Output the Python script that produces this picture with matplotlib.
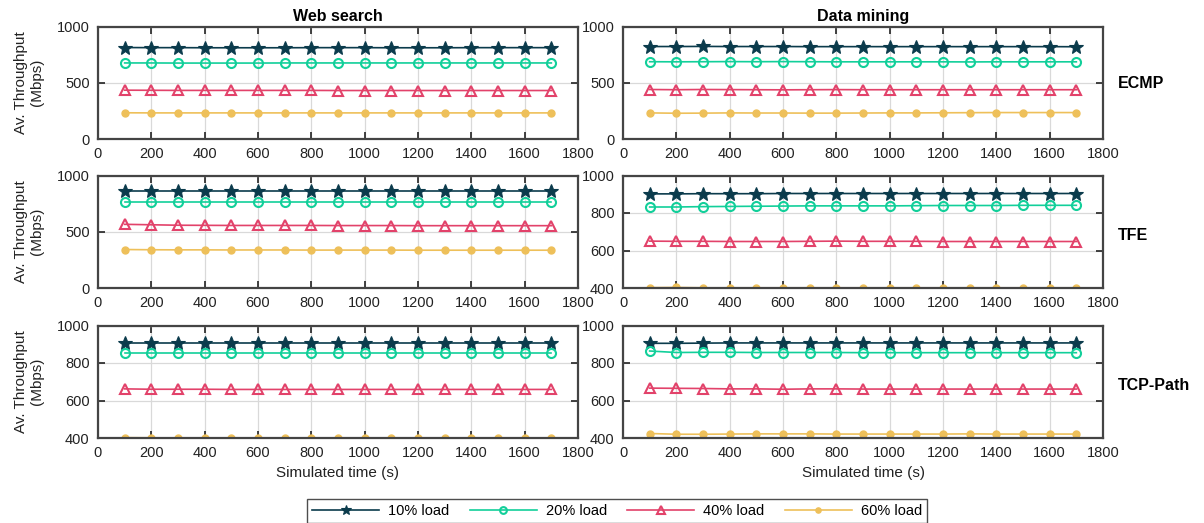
import matplotlib
matplotlib.use("Agg")
import matplotlib.pyplot as plt

plt.rcParams['font.family'] = ['Liberation Sans', 'DejaVu Sans']

times = [100, 200, 300, 400, 500, 600, 700, 800, 900, 1000, 1100, 1200, 1300, 1400, 1500, 1600, 1700]
loads = ["10% load", "20% load", "40% load", "60% load"]
columns = ["Web search", "Data mining"]
rows = ["ECMP", "TFE", "TCP-Path"]

# ECMP
ecmp_ws_10 = [813, 812, 812, 811, 811, 811, 811, 812, 812, 812, 811, 811, 811, 812, 812, 812, 812]
ecmp_ws_20 = [676, 676, 675, 675, 675, 675, 676, 676, 676, 676, 676, 676, 676, 676, 676, 676, 676]
ecmp_ws_40 = [434, 433, 432, 432, 432, 432, 432, 432, 431, 431, 431, 431, 431, 431, 431, 431, 431]
ecmp_ws_60 = [233, 232, 232, 232, 232, 232, 232, 232, 232, 232, 232, 232, 232, 232, 232, 232, 232]
ecmp_dm_10 = [822, 822, 823, 822, 822, 822, 821, 821, 821, 821, 821, 821, 821, 821, 821, 821, 820]
ecmp_dm_20 = [687, 686, 687, 688, 687, 688, 687, 686, 686, 686, 686, 686, 685, 686, 686, 686, 686]
ecmp_dm_40 = [440, 438, 440, 439, 438, 437, 438, 439, 438, 438, 438, 438, 438, 438, 438, 438, 438]
ecmp_dm_60 = [232, 229, 230, 232, 231, 231, 230, 230, 231, 232, 232, 233, 234, 235, 235, 235, 235]

# TFE
tfe_ws_10 = [858, 858, 858, 858, 858, 858, 858, 858, 858, 858, 858, 858, 858, 858, 858, 858, 858]
tfe_ws_20 = [768, 768, 768, 768, 768, 768, 768, 768, 768, 768, 768, 768, 768, 768, 768, 768, 768]
tfe_ws_40 = [566, 562, 558, 557, 556, 556, 556, 556, 555, 555, 555, 554, 554, 554, 554, 554, 554]
tfe_ws_60 = [342, 340, 339, 339, 338, 338, 338, 337, 337, 337, 337, 336, 336, 336, 336, 336, 336]
tfe_dm_10 = [902, 902, 903, 903, 903, 904, 904, 904, 904, 904, 904, 904, 904, 904, 904, 904, 904]
tfe_dm_20 = [832, 832, 834, 835, 836, 837, 838, 838, 838, 838, 839, 840, 840, 840, 841, 841, 841]
tfe_dm_40 = [650, 649, 649, 648, 648, 648, 649, 650, 649, 649, 649, 648, 648, 648, 648, 648, 648]
tfe_dm_60 = [402, 403, 401, 401, 401, 401, 401, 401, 401, 401, 401, 401, 401, 401, 401, 401, 401]

# TCP-Path
tcp_ws_10 = [909, 909, 909, 909, 909, 909, 909, 909, 909, 909, 909, 909, 909, 909, 909, 909, 909]
tcp_ws_20 = [852, 852, 852, 852, 852, 852, 852, 852, 852, 852, 852, 852, 852, 852, 852, 852, 852]
tcp_ws_40 = [662, 660, 660, 660, 659, 659, 659, 659, 659, 659, 659, 659, 659, 659, 659, 659, 659]
tcp_ws_60 = [402, 401, 400, 400, 400, 400, 400, 400, 400, 400, 400, 400, 400, 400, 400, 400, 400]
tcp_dm_10 = [905, 905, 906, 907, 907, 907, 907, 907, 907, 907, 907, 907, 907, 907, 907, 907, 907]
tcp_dm_20 = [864, 856, 857, 857, 856, 856, 856, 856, 855, 855, 855, 855, 855, 855, 855, 855, 855]
tcp_dm_40 = [666, 665, 664, 662, 662, 660, 662, 662, 661, 661, 661, 661, 661, 661, 661, 661, 661]
tcp_dm_60 = [424, 420, 420, 421, 422, 422, 422, 421, 421, 421, 421, 421, 422, 421, 421, 421, 421]

data = [
    [[ecmp_ws_10, ecmp_ws_20, ecmp_ws_40, ecmp_ws_60], [ecmp_dm_10, ecmp_dm_20, ecmp_dm_40, ecmp_dm_60]],
    [[tfe_ws_10, tfe_ws_20, tfe_ws_40, tfe_ws_60], [tfe_dm_10, tfe_dm_20, tfe_dm_40, tfe_dm_60]],
    [[tcp_ws_10, tcp_ws_20, tcp_ws_40, tcp_ws_60], [tcp_dm_10, tcp_dm_20, tcp_dm_40, tcp_dm_60]],
]
ylims = [[(0, 1000), (0, 1000)], [(0, 1000), (400, 1000)], [(400, 1000), (400, 1000)]]

colors = ['#0B3B4C', '#12CF9A', '#E2426A', '#EEC05A']
markers = ['*', 'o', '^', 'o']
msizes = [10, 6.5, 7.5, 5]
mews = [0.8, 1.5, 1.5, 1.0]
mfcs = ['#0B3B4C', 'none', 'none', '#EEC05A']

fig = plt.figure(figsize=(12.04, 5.23), dpi=100)
lefts = [98 / 1204, 623 / 1204]
width = 480 / 1204
bottoms = [1 - 139 / 523, 1 - 288 / 523, 1 - 438 / 523]
height = 112.5 / 523

handles = None
for r in range(3):
    for c in range(2):
        ax = fig.add_axes([lefts[c], bottoms[r], width, height])
        hs = []
        for k in range(4):
            h, = ax.plot(times, data[r][c][k], color=colors[k], marker=markers[k],
                         ms=msizes[k], mfc=mfcs[k], mec=colors[k], mew=mews[k], lw=1.2,
                         label=loads[k])
            hs.append(h)
        handles = hs
        ax.set_xlim(0, 1800)
        ax.set_ylim(*ylims[r][c])
        ax.set_xticks(range(0, 1801, 200))
        lo, hi = ylims[r][c]
        if lo == 0:
            ax.set_yticks([0, 500, 1000])
        else:
            ax.set_yticks([400, 600, 800, 1000])
        ax.grid(True, color='#d9d9d9', lw=0.9)
        ax.set_axisbelow(True)
        ax.tick_params(direction='in', top=True, right=True, length=5, width=1.2,
                       color='#222222', labelsize=10.5, labelcolor='#222222', pad=6)
        for s in ax.spines.values():
            s.set_color('#444444')
            s.set_linewidth(1.6)
        if c == 0:
            ax.set_ylabel("Av. Throughput\n(Mbps)", fontsize=11, color='#222222', labelpad=9)
        if r == 0:
            ax.set_title(columns[c], fontsize=11.5, fontweight='bold', pad=4)
        if r == 2:
            ax.set_xlabel("Simulated time (s)", fontsize=11, color='#222222', labelpad=4)

row_y = [1 - 84 / 523, 1 - 236 / 523, 1 - 386 / 523]
for r in range(3):
    fig.text(1118 / 1204, row_y[r], rows[r], fontsize=11.5, fontweight='bold',
             ha='left', va='center')

leg = fig.legend(handles=handles, labels=loads, loc='center', ncol=4,
                 bbox_to_anchor=(617 / 1204, 1 - 511 / 523), fontsize=10.5,
                 frameon=True, fancybox=False, edgecolor='#222222',
                 handlelength=4.6, columnspacing=1.4, borderpad=0.35, handletextpad=0.6,
                 markerscale=0.75, borderaxespad=0)
leg.get_frame().set_linewidth(1.0)

fig.savefig("out.png", dpi=100)
